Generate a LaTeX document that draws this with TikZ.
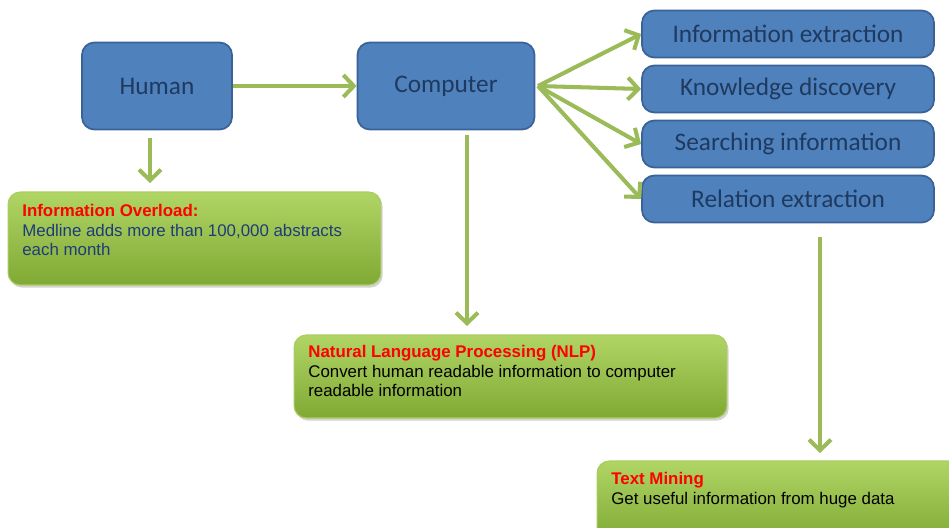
\documentclass[tikz,border=0pt]{standalone}
\usepackage{fontspec}
\setmainfont{Liberation Sans}
\newfontfamily\boxfont{Carlito}
\usetikzlibrary{arrows.meta,shadows}

\definecolor{boxblue}{HTML}{4F81BD}
\definecolor{boxedge}{HTML}{3A6298}
\definecolor{boxtext}{HTML}{1F3A60}
\definecolor{arrowgreen}{HTML}{9BBB59}
\definecolor{greentop}{HTML}{B0D565}
\definecolor{greenbot}{HTML}{80A934}
\definecolor{greenedge}{HTML}{A9CC5E}
\definecolor{titlered}{HTML}{FF0000}
\definecolor{medblue}{HTML}{1F3C7A}

\tikzset{
  bluebox/.style={draw=boxedge, line width=1pt, fill=boxblue, rounded corners=7pt,
    text=boxtext, font=\boxfont\fontsize{14.4}{17}\selectfont},
  notebox/.style={draw=greenedge, line width=0.6pt, rounded corners=7pt,
    top color=greentop, bottom color=greenbot,
    drop shadow={shadow xshift=1pt, shadow yshift=-1.5pt, opacity=0.35}},
  notetext/.style={anchor=north west, align=left, inner sep=0pt,
    font=\fontsize{9.6}{11.2}\selectfont},
  flow/.style={draw=arrowgreen, line width=2.3pt,
    -{Straight Barb[length=6pt, width=12.5pt, line width=2.3pt]}}
}

\begin{document}
\begin{tikzpicture}[x=0.02cm, y=-0.02cm]
\useasboundingbox (0,0) rectangle (949,527);

% top row
\node[bluebox, minimum width=3cm, minimum height=1.74cm] (human) at (157,86) {Human};
\node[bluebox, minimum width=3.54cm, minimum height=1.74cm] (computer) at (446,86) {Computer};

% tasks on the right
\node[bluebox, minimum width=5.84cm, minimum height=0.94cm] (infoext) at (788,34) {Information extraction};
\node[bluebox, minimum width=5.84cm, minimum height=0.94cm] (knowdisc) at (788,89) {Knowledge discovery};
\node[bluebox, minimum width=5.84cm, minimum height=0.94cm] (searchinfo) at (788,144) {Searching information};
\node[bluebox, minimum width=5.84cm, minimum height=0.94cm] (relext) at (788,199) {Relation extraction};

% green notes
\node[notebox, minimum width=7.46cm, minimum height=1.86cm] (overload) at (194.5,238.5) {};
\node[notetext] (overloadtxt) at (22,204) {\textcolor{titlered}{\textbf{Information Overload:}}\\
  \textcolor{medblue}{Medline adds more than 100,000 abstracts}\\
  \textcolor{medblue}{each month}};

\node[notebox, minimum width=8.66cm, minimum height=1.66cm] (nlp) at (510.5,376.5) {};
\node[notetext] (nlptxt) at (308,345) {\textcolor{titlered}{\textbf{Natural Language Processing (NLP)}}\\
  Convert human readable information to computer\\
  readable information};

\node[notebox, minimum width=7.4cm, minimum height=1.6cm] (mining) at (782,501) {};
\node[notetext] (miningtxt) at (611,472) {\textcolor{titlered}{\textbf{Text Mining}}\\
  Get useful information from huge data};

% connectors
\coordinate (humanout) at (150,138);
\coordinate (humanin) at (150,183);
\coordinate (compout) at (467,135);
\coordinate (compin) at (467,326);
\coordinate (relout) at (820,237);
\coordinate (relin) at (820,453);
\coordinate (fan) at (538,86);
\draw[flow] (human.east) -- (computer.west);
\draw[flow] (fan) -- (infoext.west);
\draw[flow] (fan) -- (knowdisc.west);
\draw[flow] (fan) -- (searchinfo.west);
\draw[flow] (fan) -- (relext.west);
\draw[flow] (humanout) -- (humanin);
\draw[flow] (compout) -- (compin);
\draw[flow] (relout) -- (relin);
\end{tikzpicture}
\end{document}
